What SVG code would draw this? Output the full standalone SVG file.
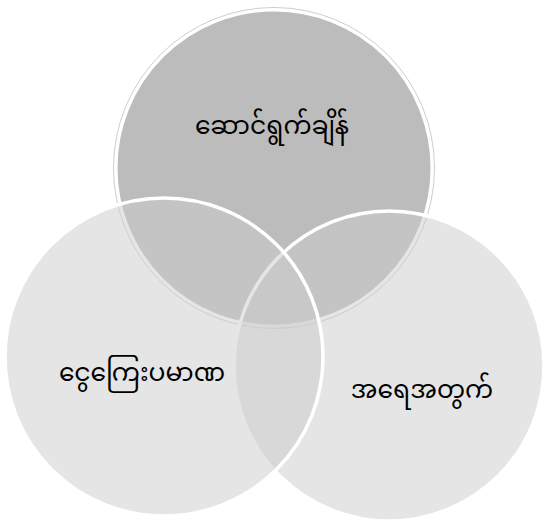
<svg xmlns="http://www.w3.org/2000/svg" width="544" height="528" viewBox="0 0 544 528">
<style>
.halo{fill:none;stroke:#cdcdcd;stroke-width:1}
.bot{fill:#cccccc;fill-opacity:0.5;stroke:#ffffff;stroke-width:3.5}
.lbl{font-family:"Noto Sans Myanmar","Padauk","Myanmar Text","Noto Sans",sans-serif;font-size:25px;fill:#000000;text-anchor:middle}
</style>
<rect width="544" height="528" fill="#ffffff"/>
<g id="node-top">
<circle class="halo" cx="274" cy="168" r="160.5"/>
<circle cx="274" cy="168" r="158" fill="#bcbcbc" stroke="#ffffff" stroke-width="3"/>
<text class="lbl" x="272" y="134">ဆောင်ရွက်ချိန်</text>
</g>
<g id="node-right">
<circle class="bot" cx="389" cy="366" r="155"/>
<text class="lbl" x="422" y="398">အရေအတွက်</text>
</g>
<g id="node-left">
<circle class="bot" cx="164" cy="357" r="159"/>
<text class="lbl" x="142" y="381">ငွေကြေးပမာဏ</text>
</g>
<g id="connectors"></g>
</svg>
